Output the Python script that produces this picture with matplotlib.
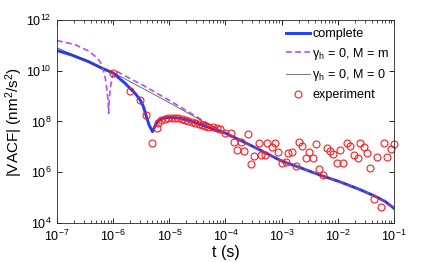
import numpy as np
import matplotlib
matplotlib.use('Agg')
import matplotlib.pyplot as plt
from matplotlib.ticker import LogLocator, NullLocator, FixedLocator, NullFormatter

plt.rcParams['font.family'] = ['Liberation Sans', 'DejaVu Sans']
plt.rcParams['mathtext.fontset'] = 'custom'
plt.rcParams['mathtext.rm'] = 'Liberation Sans'
plt.rcParams['mathtext.it'] = 'Liberation Sans:italic'
plt.rcParams['mathtext.default'] = 'regular'

# axis ticks
x_ticks = [1e-7, 1e-6, 1e-5, 1e-4, 1e-3, 1e-2, 1e-1]
y_ticks = [1e4, 1e6, 1e8, 1e10, 1e12]

# shared tail of the three model curves (log10 t, log10 |VACF|)
tail_logt = [-4.01, -3.86, -3.56, -3.30, -3.00, -2.67, -2.32, -1.96, -1.61, -1.34, -1.16, -1.00]
tail_logv = [7.55, 7.39, 7.07, 6.78, 6.44, 6.18, 5.89, 5.62, 5.32, 5.06, 4.85, 4.58]

# complete model
full_logt = [-7.00, -6.74, -6.44, -6.20, -6.00, -5.79, -5.61, -5.52, -5.46, -5.40, -5.36, -5.33,
             -5.30, -5.26, -5.20, -5.11, -4.99, -4.81, -4.63, -4.45, -4.19]
full_logv = [10.80, 10.62, 10.36, 10.10, 9.91, 9.51, 9.11, 8.85, 8.58, 8.13, 7.86, 7.73,
             7.60, 7.80, 8.02, 8.13, 8.16, 8.13, 8.02, 7.89, 7.67]

# gamma_h = 0, M = m
mm_logt = [-7.00, -6.68, -6.44, -6.29, -6.22, -6.18, -6.14, -6.11, -6.09, -6.08,
           -6.07, -6.05, -6.02, -5.99, -5.93, -5.79, -5.43, -4.99, -4.45, -4.19]
mm_logv = [11.19, 11.03, 10.78, 10.52, 10.31, 10.07, 9.71, 9.24, 8.77, 8.32,
           8.85, 9.32, 9.71, 9.93, 9.97, 9.80, 9.38, 8.82, 8.10, 7.76]

# gamma_h = 0, M = 0
m0_logt = [-7.00, -6.50, -6.00, -5.52, -4.99, -4.45, -4.10]
m0_logv = [10.91, 10.42, 9.93, 9.36, 8.73, 8.06, 7.67]

# experiment
exp_logt = [-6.00, -5.70, -5.52, -5.42, -5.30, -5.22, -5.20, -5.14, -5.08, -5.02, -4.96, -4.90,
            -4.84, -4.78, -4.72, -4.66, -4.60, -4.54, -4.48, -4.42, -4.37, -4.31, -4.22, -4.15,
            -4.09, -4.01, -3.91, -3.84, -3.80, -3.72, -3.67, -3.60, -3.55, -3.49, -3.40, -3.36,
            -3.30, -3.26, -3.18, -3.12, -3.06, -3.00, -2.93, -2.88, -2.82, -2.75, -2.69, -2.63,
            -2.57, -2.51, -2.45, -2.39, -2.33, -2.27, -2.20, -2.14, -2.08, -2.02, -1.96, -1.90,
            -1.84, -1.78, -1.72, -1.65, -1.61, -1.53, -1.48, -1.42, -1.36, -1.30, -1.23, -1.17,
            -1.12, -1.05, -1.00]
exp_logv = [9.92, 9.20, 8.84, 8.24, 7.16, 7.76, 7.93, 8.06, 8.10, 8.13, 8.15, 8.15,
            8.13, 8.10, 8.06, 8.02, 7.99, 7.93, 7.89, 7.85, 7.84, 7.80, 7.77, 7.74,
            7.72, 7.53, 7.53, 7.20, 6.87, 7.18, 6.84, 7.50, 6.33, 6.64, 7.17, 6.68,
            6.68, 7.17, 6.98, 7.16, 6.79, 6.35, 6.39, 6.76, 6.78, 6.25, 7.20, 7.03,
            6.55, 6.80, 6.55, 7.12, 6.13, 5.88, 6.94, 6.85, 6.72, 6.35, 6.88, 6.38,
            7.14, 7.02, 6.69, 6.55, 7.14, 6.98, 6.75, 6.18, 4.93, 6.60, 4.62, 7.14,
            6.59, 6.90, 7.11]

fig = plt.figure(figsize=(4.36, 2.62), dpi=100)
ax = fig.add_axes([0.1307, 0.1489, 0.773, 0.7748])

t_full = 10 ** np.array(full_logt + tail_logt)
v_full = 10 ** np.array(full_logv + tail_logv)
t_mm = 10 ** np.array(mm_logt + tail_logt)
v_mm = 10 ** np.array(mm_logv + tail_logv)
t_m0 = 10 ** np.array(m0_logt + tail_logt)
v_m0 = 10 ** np.array(m0_logv + tail_logv)

ax.plot(t_full, v_full, color='#1f3cff', lw=2.1, label='complete')
ax.plot(t_mm, v_mm, color='#b44dff', lw=1.2, ls=(0, (3.5, 2)), label=r'$\gamma_{h}$ = 0, M = m')
ax.plot(t_m0, v_m0, color='#404040', lw=0.5, label=r'$\gamma_{h}$ = 0, M = 0')
ax.plot(10 ** np.array(exp_logt), 10 ** np.array(exp_logv), 'o', mfc='none', mec='#ff1a1a',
        ms=5, mew=0.8, clip_on=False, label='experiment')

ax.set_xscale('log')
ax.set_yscale('log')
ax.set_xlim(1e-7, 1e-1)
ax.set_ylim(1e4, 1e12)
ax.xaxis.set_major_locator(FixedLocator(x_ticks))
ax.xaxis.set_minor_locator(LogLocator(base=10, subs=np.arange(2, 10), numticks=10))
ax.xaxis.set_minor_formatter(NullFormatter())
ax.yaxis.set_major_locator(FixedLocator(y_ticks))
ax.yaxis.set_minor_locator(NullLocator())
ax.tick_params(which='both', direction='in', top=True, right=True, labelsize=9, pad=4)
ax.tick_params(which='major', length=3.5, width=0.6)
ax.tick_params(which='minor', length=2, width=0.5)
for s in ax.spines.values():
    s.set_linewidth(0.6)
    s.set_color('#262626')

ax.set_xlabel('t (s)', fontsize=11.5, labelpad=1)
ax.set_ylabel('|VACF| (nm$^2$/s$^2$)', fontsize=11, labelpad=1)

ax.legend(loc='upper right', bbox_to_anchor=(1.0, 0.985), frameon=False, fontsize=9.1,
          handlelength=1.9, handletextpad=0.15, labelspacing=0.45, borderaxespad=0.0)

fig.savefig('out.png', dpi=100)
